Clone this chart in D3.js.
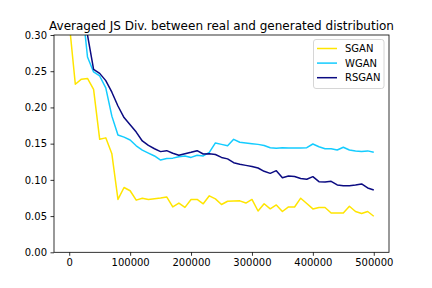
<!DOCTYPE html>
<html><head><meta charset="utf-8">
<script src="https://cdn.jsdelivr.net/npm/d3@7"></script>
<style>body{margin:0;background:#fff}svg{display:block}text{font-family:"DejaVu Sans",sans-serif}</style>
</head><body><svg id="c" width="432" height="288"></svg>
<script>
const steps = d3.range(0, 500001, 10000);
const sgan = [0.317,0.232,0.239,0.240,0.225,0.156,0.158,0.136,0.073,0.0895,0.085,0.072,0.0747,0.073,0.074,0.075,0.0765,0.0626,0.068,0.062,0.073,0.073,0.067,0.078,0.0737,0.066,0.0705,0.0708,0.071,0.068,0.073,0.057,0.067,0.060,0.0654,0.0563,0.0626,0.0626,0.0747,0.0673,0.0599,0.0618,0.0618,0.0543,0.0543,0.0543,0.0636,0.0563,0.0535,0.0563,0.0498];
const wgan = [0.55,0.45,0.35,0.2696,0.249,0.2434,0.227,0.188,0.162,0.159,0.155,0.147,0.141,0.137,0.133,0.1274,0.1295,0.130,0.132,0.133,0.131,0.134,0.133,0.138,0.151,0.149,0.147,0.156,0.152,0.151,0.150,0.149,0.1475,0.1444,0.1436,0.1444,0.144,0.144,0.144,0.1444,0.1495,0.1458,0.143,0.143,0.1412,0.145,0.1412,0.140,0.139,0.140,0.138];
const rsgan = [0.55,0.45,0.36,0.30,0.2527,0.247,0.237,0.221,0.202,0.186,0.176,0.166,0.1537,0.1475,0.143,0.139,0.1403,0.1367,0.134,0.136,0.138,0.1403,0.1357,0.136,0.135,0.131,0.129,0.1237,0.1215,0.120,0.1185,0.1164,0.1118,0.109,0.1127,0.103,0.1053,0.1047,0.102,0.1008,0.1044,0.0975,0.097,0.098,0.093,0.092,0.092,0.093,0.0943,0.0888,0.086];
const seriesNames = ["SGAN","WGAN","RSGAN"];
const seriesColors = ["#ffe500","#14ccff","#0b0b82"];
const xTicks = [0,100000,200000,300000,400000,500000];
const yTicks = [0,0.05,0.10,0.15,0.20,0.25,0.30];
const title = "Averaged JS Div. between real and generated distribution";

const svg = d3.select("#c");
const L=54, R=389, T=35, B=252.3;
const x = d3.scaleLinear().domain([-25000,525000]).range([L,R]);
const y = d3.scaleLinear().domain([0,0.30]).range([B,T]);

svg.append("defs").append("clipPath").attr("id","clip")
  .append("rect").attr("x",L).attr("y",T).attr("width",R-L).attr("height",B-T);

const all=[sgan,wgan,rsgan];
const line = d3.line().x((d,i)=>x(steps[i])).y(d=>y(d));
const g = svg.append("g").attr("clip-path","url(#clip)");
all.forEach((s,k)=>{
  g.append("path").datum(s).attr("d",line).attr("fill","none")
   .attr("stroke",seriesColors[k]).attr("stroke-width",1.5).attr("stroke-linejoin","round");
});

const xa = svg.append("g").attr("transform",`translate(0,${B})`)
  .call(d3.axisBottom(x).tickValues(xTicks).tickFormat(d3.format("d")).tickSize(3.5).tickPadding(3.5));
const ya = svg.append("g").attr("transform",`translate(${L},0)`)
  .call(d3.axisLeft(y).tickValues(yTicks).tickFormat(d3.format(".2f")).tickSize(3.5).tickPadding(3.5));
[xa,ya].forEach(a=>{a.select(".domain").remove();
  a.selectAll("text").attr("font-size",10).attr("fill","#000").style("font-family","DejaVu Sans");
  a.selectAll("line").attr("stroke","#000").attr("stroke-width",0.8);});

svg.append("rect").attr("x",L).attr("y",T).attr("width",R-L).attr("height",B-T)
  .attr("fill","none").attr("stroke","#000").attr("stroke-width",0.8);

svg.append("text").attr("x",(L+R)/2).attr("y",29.5).attr("text-anchor","middle")
  .attr("font-size",12).attr("fill","#000").text(title);

const lg = svg.append("g");
lg.append("rect").attr("x",313.5).attr("y",39.5).attr("width",70.5).attr("height",49)
  .attr("rx",2.5).attr("fill","#fff").attr("fill-opacity",0.8).attr("stroke","#cccccc").attr("stroke-width",0.8);
seriesNames.forEach((n,k)=>{
  const yy = 48.5 + k*14.6;
  lg.append("line").attr("x1",317).attr("x2",337).attr("y1",yy).attr("y2",yy)
    .attr("stroke",seriesColors[k]).attr("stroke-width",1.5);
  lg.append("text").attr("x",345).attr("y",yy+3.6).attr("font-size",10).attr("fill","#000").text(n);
});
</script></body></html>
